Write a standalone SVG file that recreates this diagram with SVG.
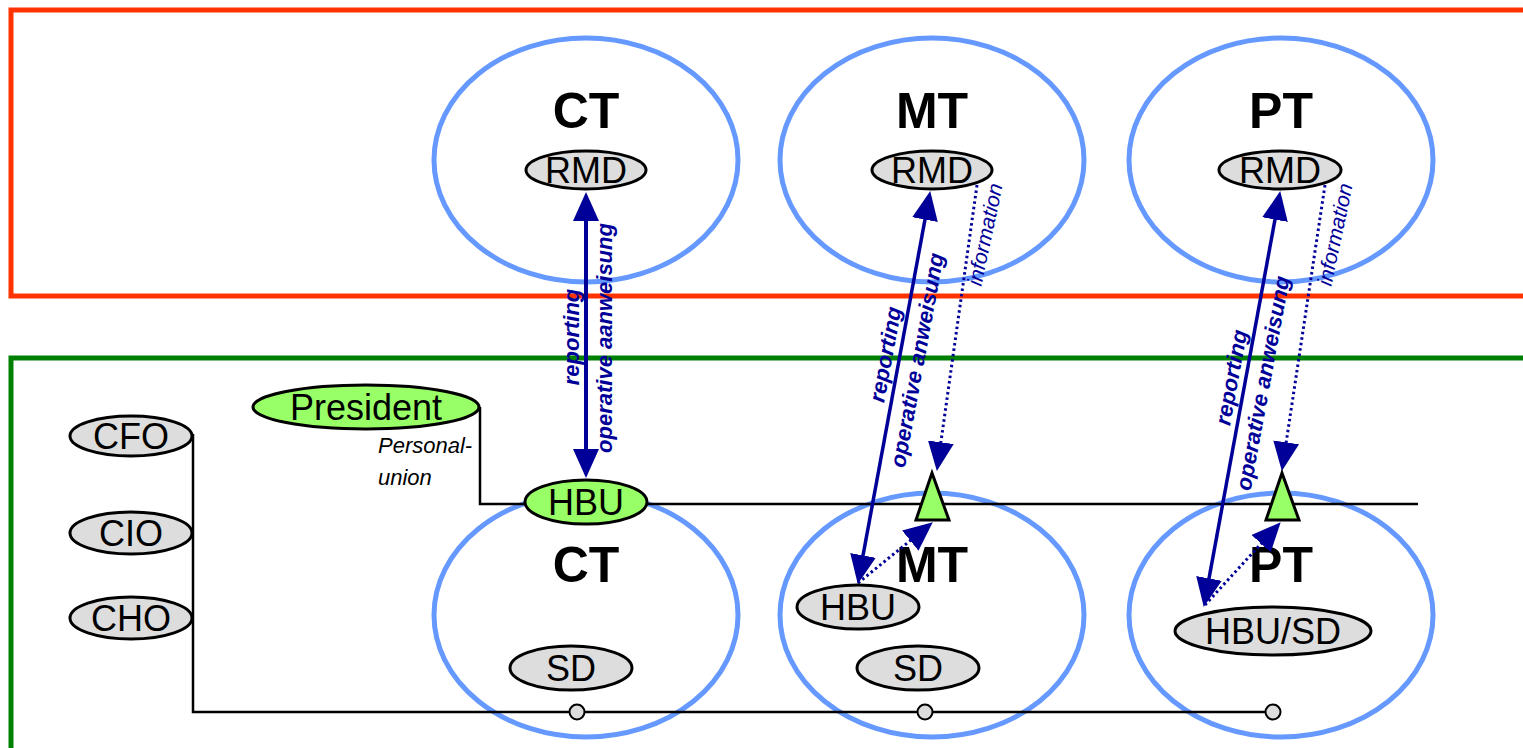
<svg xmlns="http://www.w3.org/2000/svg" width="1523" height="748" viewBox="0 0 1523 748">
<style>
.frame{fill:none;stroke-width:5}
.team{fill:none;stroke:#6699ff;stroke-width:5}
.node{fill:#dddddd;stroke:#000;stroke-width:3}
.green{fill:#99ff66;stroke:#000;stroke-width:3}
.lbl{font-family:"Liberation Sans",Arial,sans-serif;font-size:36px;text-anchor:middle;fill:#000}
.title{font-family:"Liberation Sans",Arial,sans-serif;font-size:50px;font-weight:bold;text-anchor:middle;fill:#000}
.wire{fill:none;stroke:#000;stroke-width:2.5}
.solid{fill:none;stroke:#000099;stroke-width:3.5}
.dot{fill:none;stroke:#000099;stroke-width:3;stroke-dasharray:2.5 3}
.alab{font-family:"Liberation Sans",Arial,sans-serif;font-size:22px;font-weight:bold;font-style:italic;text-anchor:middle;fill:#000099}
.ilab{font-family:"Liberation Sans",Arial,sans-serif;font-size:21px;font-style:italic;text-anchor:middle;fill:#000099}
.pu{font-family:"Liberation Sans",Arial,sans-serif;font-size:22px;font-style:italic;fill:#000}
.joint{fill:#dddddd;stroke:#000;stroke-width:2}
</style>
<defs>
<marker id="ah" markerUnits="userSpaceOnUse" markerWidth="29" markerHeight="27" refX="20" refY="13" orient="auto-start-reverse" viewBox="0 0 29 26">
<path d="M0,0 L29,13 L0,26 z" fill="#000099"/>
</marker>
</defs>
<rect width="1523" height="748" fill="#fff"/>
<g id="frames">
<rect class="frame" x="11" y="10" width="1540" height="286" stroke="#ff3300"/>
<rect class="frame" x="11" y="358" width="1540" height="500" stroke="#008000"/>
</g>
<g id="team-ct-top"><ellipse class="team" cx="586" cy="160" rx="152" ry="122"/><text class="title" x="586" y="128">CT</text></g>
<g id="team-mt-top"><ellipse class="team" cx="932" cy="160" rx="152" ry="122"/><text class="title" x="932" y="128">MT</text></g>
<g id="team-pt-top"><ellipse class="team" cx="1281" cy="160" rx="152" ry="122"/><text class="title" x="1281" y="128">PT</text></g>
<g id="team-ct-bottom"><ellipse class="team" cx="586" cy="615" rx="152" ry="122"/><text class="title" x="586" y="582">CT</text></g>
<g id="team-mt-bottom"><ellipse class="team" cx="932" cy="615" rx="152" ry="122"/><text class="title" x="932" y="582">MT</text></g>
<g id="team-pt-bottom"><ellipse class="team" cx="1281" cy="615" rx="152" ry="122"/><text class="title" x="1281" y="582">PT</text></g>
<g id="connectors">
<polyline class="wire" points="480,407 480,504 1418,504"/>
<polyline class="wire" points="193,434 193,712 1273,712"/>
<line x1="586" y1="201" x2="586" y2="469" stroke="#000099" stroke-width="4" marker-start="url(#ah)" marker-end="url(#ah)"/>
<line class="solid" x1="928.6" y1="199.9" x2="859.4" y2="575.1" marker-start="url(#ah)" marker-end="url(#ah)"/>
<line class="solid" x1="1278.6" y1="199.9" x2="1205.4" y2="598.1" marker-start="url(#ah)" marker-end="url(#ah)"/>
<line class="dot" x1="977" y1="185" x2="938.1" y2="462.1" marker-end="url(#ah)"/>
<line class="dot" x1="1325" y1="185" x2="1283.2" y2="462.1" marker-end="url(#ah)"/>
<line class="dot" x1="858" y1="583" x2="925.8" y2="528" marker-end="url(#ah)"/>
<line class="dot" x1="1205" y1="605" x2="1274.6" y2="528.9" marker-end="url(#ah)"/>
<text class="alab" transform="translate(579,337) rotate(-90)">reporting</text>
<text class="alab" transform="translate(612,338) rotate(-90)">operative aanweisung</text>
<text class="alab" transform="translate(892.8,355.7) rotate(-79.6)">reporting</text>
<text class="alab" transform="translate(924.3,361.5) rotate(-79.6)">operative anweisung</text>
<text class="alab" transform="translate(1238.6,378.7) rotate(-79.6)">reporting</text>
<text class="alab" transform="translate(1270.1,384.5) rotate(-79.6)">operative anweisung</text>
<text class="ilab" transform="translate(992,236) rotate(-78)">information</text>
<text class="ilab" transform="translate(1342,236) rotate(-78)">information</text>
<text class="pu" x="378" y="453">Personal-</text>
<text class="pu" x="378" y="485">union</text>
<circle class="joint" cx="577" cy="712" r="7.5"/>
<circle class="joint" cx="925" cy="712" r="7.5"/>
<circle class="joint" cx="1273" cy="712" r="7.5"/>
</g>
<g id="rmd-ct"><ellipse class="node" cx="586" cy="170" rx="60" ry="19"/><text class="lbl" x="586" y="183">RMD</text></g>
<g id="rmd-mt"><ellipse class="node" cx="932" cy="170" rx="60" ry="19"/><text class="lbl" x="932" y="183">RMD</text></g>
<g id="rmd-pt"><ellipse class="node" cx="1280" cy="170" rx="61" ry="19"/><text class="lbl" x="1280" y="183">RMD</text></g>
<g id="president"><ellipse class="green" cx="366" cy="407" rx="113" ry="22"/><text class="lbl" x="366" y="420">President</text></g>
<g id="hbu-ct"><ellipse class="green" cx="586" cy="502" rx="61" ry="22"/><text class="lbl" x="586" y="515">HBU</text></g>
<g id="cfo"><ellipse class="node" cx="131" cy="436" rx="61" ry="20"/><text class="lbl" x="131" y="449">CFO</text></g>
<g id="cio"><ellipse class="node" cx="131" cy="533" rx="61" ry="21"/><text class="lbl" x="131" y="546">CIO</text></g>
<g id="cho"><ellipse class="node" cx="131" cy="618" rx="61" ry="21"/><text class="lbl" x="131" y="631">CHO</text></g>
<g id="sd-ct"><ellipse class="node" cx="571" cy="668" rx="61" ry="22"/><text class="lbl" x="571" y="681">SD</text></g>
<g id="sd-mt"><ellipse class="node" cx="918" cy="668" rx="61" ry="22"/><text class="lbl" x="918" y="681">SD</text></g>
<g id="hbu-mt"><ellipse class="node" cx="858" cy="607" rx="61" ry="22"/><text class="lbl" x="858" y="620">HBU</text></g>
<g id="hbu-sd-pt"><ellipse class="node" cx="1273" cy="631" rx="98" ry="24"/><text class="lbl" x="1273" y="644">HBU/SD</text></g>
<g id="tri-mt"><polygon class="green" points="932,473 916,520 949,520"/></g>
<g id="tri-pt"><polygon class="green" points="1282,473 1266,520 1299,520"/></g>
</svg>
